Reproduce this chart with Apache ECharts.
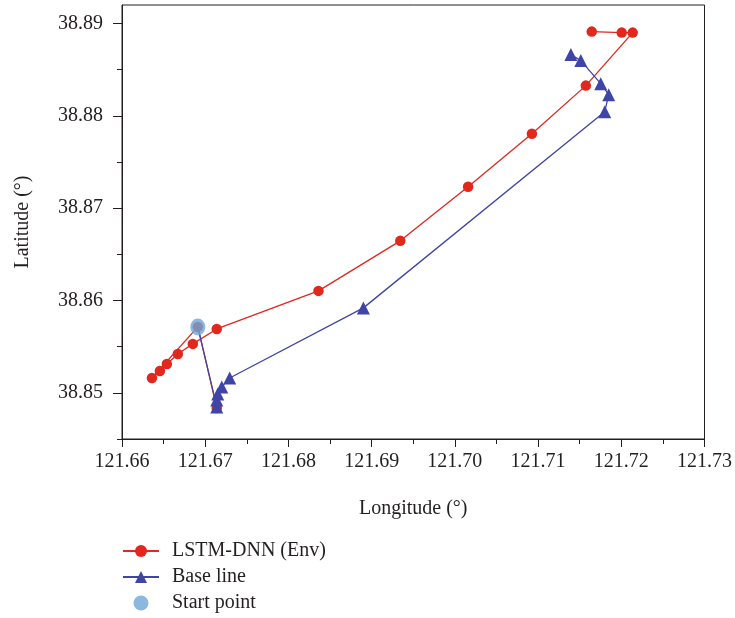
<!DOCTYPE html>
<html><head><meta charset="utf-8">
<script src="https://cdn.jsdelivr.net/npm/echarts@6/dist/echarts.min.js"></script>
<style>html,body{margin:0;padding:0;background:#fff}#c{width:735px;height:618px}</style>
</head><body><div id="c"></div>
<script>
// LSTM-DNN (Env) trajectory
const lstmLon = [121.67139, 121.66911, 121.66360, 121.66455, 121.66539, 121.66671, 121.66851, 121.67139, 121.68361, 121.69344, 121.70159, 121.70926, 121.71574, 121.72137, 121.72005, 121.71645];
const lstmLat = [38.84836, 38.85714, 38.85161, 38.85237, 38.85313, 38.85421, 38.85530, 38.85692, 38.86104, 38.86646, 38.87232, 38.87806, 38.88327, 38.88901, 38.88901, 38.88912];
// Base line trajectory
const baseLon = [121.66911, 121.67139, 121.67139, 121.67151, 121.67199, 121.67294, 121.68901, 121.71801, 121.71849, 121.71753, 121.71514, 121.71394];
const baseLat = [38.85714, 38.84847, 38.84923, 38.84988, 38.85064, 38.85161, 38.85920, 38.88045, 38.88229, 38.88348, 38.88598, 38.88663];
// Start point
const startLon = [121.66911];
const startLat = [38.85714];
// Axis ticks
const yMajorTicks = [38.85, 38.86, 38.87, 38.88, 38.89];
const yMinorTicks = [38.845, 38.855, 38.865, 38.875, 38.885];

const zip = (a, b) => a.map((v, i) => [v, b[i]]);
const FONT = 'Liberation Serif';
const TXT = '#231f20';

const chart = echarts.init(document.getElementById('c'), null, {renderer: 'canvas'});
chart.setOption({
  animation: false,
  backgroundColor: '#fff',
  grid: {left: 122, right: 29, top: 5, bottom: 179, show: true, borderColor: '#231f20', borderWidth: 1, backgroundColor: 'transparent'},
  legend: {
    orient: 'vertical', left: 122, top: 541, padding: 0, itemGap: 6,
    itemWidth: 36, itemHeight: 15, height: 77,
    textStyle: {fontFamily: FONT, fontSize: 20, lineHeight: 20, color: TXT, padding: [0, 0, 0, 8]},
    data: ['LSTM-DNN (Env)', 'Base line', 'Start point']
  },
  xAxis: {
    type: 'value', min: 121.66, max: 121.73, interval: 0.01,
    name: 'Longitude (°)', nameLocation: 'middle', nameGap: 60,
    nameTextStyle: {fontFamily: FONT, fontSize: 20, color: TXT},
    axisLine: {show: true, onZero: false, lineStyle: {color: '#231f20', width: 1}},
    axisTick: {show: true, inside: false, length: 8, lineStyle: {color: '#231f20'}},
    minorTick: {show: true, splitNumber: 2, length: 5, lineStyle: {color: '#231f20'}},
    axisLabel: {fontFamily: FONT, fontSize: 20, color: TXT, margin: 13, formatter: v => v.toFixed(2), showMinLabel: true, showMaxLabel: true},
    splitLine: {show: false}
  },
  yAxis: [{
    type: 'value', min: 38.845, max: 38.892,
    name: 'Latitude (°)', nameLocation: 'middle', nameGap: 89,
    nameTextStyle: {fontFamily: FONT, fontSize: 20, color: TXT},
    axisLine: {show: true, onZero: false, lineStyle: {color: '#231f20', width: 1}},
    axisTick: {show: true, length: 9, customValues: yMajorTicks, lineStyle: {color: '#231f20'}},
    axisLabel: {fontFamily: FONT, fontSize: 20, color: TXT, margin: 19, customValues: yMajorTicks, formatter: v => v.toFixed(2)},
    splitLine: {show: false}
  }, {
    type: 'value', min: 38.845, max: 38.892, position: 'left',
    axisLine: {show: false},
    axisTick: {show: true, length: 5, customValues: yMinorTicks, lineStyle: {color: '#231f20'}},
    axisLabel: {show: false},
    splitLine: {show: false}
  }],
  series: [{
    name: 'LSTM-DNN (Env)', type: 'line', yAxisIndex: 0, z: 2,
    data: zip(lstmLon, lstmLat),
    symbol: 'circle', symbolSize: 10.5, showAllSymbol: true,
    lineStyle: {color: '#e2271d', width: 1.3},
    itemStyle: {color: '#e2271d'}
  }, {
    name: 'Base line', type: 'line', yAxisIndex: 0, z: 3,
    data: zip(baseLon, baseLat).map((p, i) => i === 0 ? {value: p, symbol: 'none'} : p),
    symbol: 'triangle', symbolSize: 13, showAllSymbol: true,
    lineStyle: {color: '#3f45a6', width: 1.3},
    itemStyle: {color: '#3f45a6'}
  }, {
    name: 'Start point', type: 'scatter', yAxisIndex: 0, z: 10,
    data: zip(startLon, startLat),
    symbol: 'circle', symbolSize: [15, 17],
    itemStyle: {color: '#6fa6d8'}
  }]
});
</script></body></html>
